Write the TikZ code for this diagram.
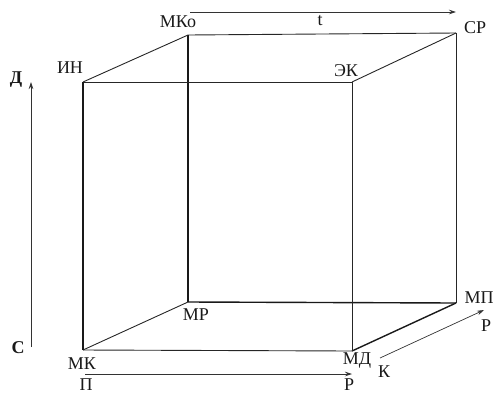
\documentclass[tikz,border=0pt]{standalone}
\usepackage{fontspec}
\setmainfont{Liberation Serif}
\usetikzlibrary{arrows.meta}
\begin{document}
\begin{tikzpicture}[x=1pt,y=-1pt,
  edge/.style={draw=black!85,line width=0.9pt},
  thick edge/.style={draw=black!90,line width=1.4pt},
  axis/.style={draw=black!80,line width=0.7pt,-{Stealth[length=7pt,width=4.5pt]}},
  lbl/.style={font=\fontsize{18}{18}\selectfont,inner sep=0pt,text=black!90}]
\useasboundingbox (0,0) rectangle (494,394);
% corners
\coordinate (IN) at (83,82);
\coordinate (EK) at (352,82);
\coordinate (MK) at (83,350);
\coordinate (MD) at (352,351);
\coordinate (MKo) at (188,35);
\coordinate (CP) at (456,33);
\coordinate (MP) at (188,302);
\coordinate (MPr) at (456,303);
% back face
\draw[edge] (MKo) -- (CP);
\draw[edge] (CP) -- (MPr);
\draw[thick edge] (MP) -- (MPr);
\draw[thick edge] (MKo) -- (MP);
% connectors
\draw[edge] (IN) -- (MKo);
\draw[edge] (EK) -- (CP);
\draw[edge] (MK) -- (MP);
\draw[thick edge] (MD) -- (MPr);
% front face
\draw[edge] (IN) -- (EK);
\draw[edge] (EK) -- (MD);
\draw[edge] (MK) -- (MD);
\draw[thick edge] (IN) -- (MK);
% axes
\coordinate (tA) at (190,12);
\coordinate (tB) at (456,12);
\draw[axis] (tA) -- (tB);
\coordinate (vA) at (31,347);
\coordinate (vB) at (31,82);
\draw[axis] (vA) -- (vB);
\coordinate (hA) at (85,374);
\coordinate (hB) at (352,374);
\draw[axis] (hA) -- (hB);
\coordinate (dA) at (380,358);
\coordinate (dB) at (484,310);
\draw[axis] (dA) -- (dB);
% labels
\node[lbl] (lIN) at (70,68) {ИН};
\node[lbl] (lMKo) at (178,22) {МКо};
\node[lbl] (lEK) at (346,71) {ЭК};
\node[lbl] (lCP) at (475,28) {СР};
\node[lbl] (lMP) at (196,315) {МР};
\node[lbl] (lMK) at (82,364) {МК};
\node[lbl] (lMD) at (357,361) {МД};
\node[lbl] (lMPr) at (479,298) {МП};
\node[lbl] (lt) at (320,21) {t};
\node[lbl,font=\bfseries\fontsize{18}{18}\selectfont] (lD) at (16,80) {Д};
\node[lbl,font=\bfseries\fontsize{18}{18}\selectfont] (lC) at (18,348) {С};
\node[lbl] (lP) at (86,385) {П};
\node[lbl] (lR1) at (349,385) {Р};
\node[lbl] (lK) at (384,372) {К};
\node[lbl] (lR2) at (486,326) {Р};
\end{tikzpicture}
\end{document}
